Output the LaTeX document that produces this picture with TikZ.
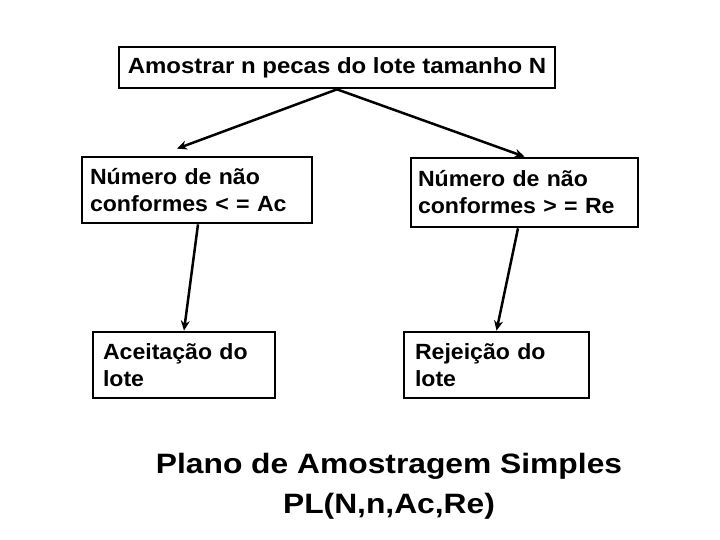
\documentclass[tikz,border=0pt]{standalone}
\usepackage{fontspec}
\setmainfont{Liberation Sans}
\newfontfamily\boxfont[FakeStretch=1.05]{Liberation Sans}
\newfontfamily\headfont[FakeStretch=1.09]{Liberation Sans}
\newfontfamily\titlefont[FakeStretch=1.135]{Liberation Sans}
\usetikzlibrary{arrows.meta}
\begin{document}
\begin{tikzpicture}[x=1pt,y=-1pt,
  box/.style={draw=black, line width=2.7pt, fill=white, align=left, inner ysep=0pt, anchor=center,
    font=\boxfont\fontsize{22}{27}\selectfont\bfseries},
  conn/.style={line width=2.5pt, -{Stealth[length=10pt,width=9pt]}}
]
\useasboundingbox[fill=white] (0,0) rectangle (720,540);
\node[box, font=\headfont\fontsize{22}{27}\selectfont\bfseries, minimum width=436pt, minimum height=41pt, align=center] (top) at (337,67.5) {Amostrar n pecas do lote tamanho N};
\node[box, text width=214pt, inner xsep=8pt, minimum height=66pt] (lm) at (197,190) {Número de não\\conformes < = Ac};
\node[box, text width=213pt, inner xsep=7pt, minimum height=69pt] (rm) at (524.5,192.5) {Número de não\\conformes > = Re};
\node[box, text width=162pt, inner xsep=10pt, minimum height=66pt] (lb) at (184,365) {Aceitação do\\lote};
\node[box, text width=163pt, inner xsep=11pt, minimum height=66pt] (rb) at (496.5,365) {Rejeição do\\lote};
\node[font=\titlefont\fontsize{28}{40}\selectfont\bfseries, align=center, anchor=base, inner sep=0pt] (title) at (389,513) {Plano de Amostragem Simples\\PL(N,n,Ac,Re)};
\draw[conn] (top.south) -- ([xshift=-20pt,yshift=7pt]lm.north);
\draw[conn] (top.south) -- (rm.north);
\draw[conn] ([xshift=1pt]lm.south) -- (lb.north);
\draw[conn] ([xshift=-6.5pt]rm.south) -- (rb.north);
\end{tikzpicture}
\end{document}
